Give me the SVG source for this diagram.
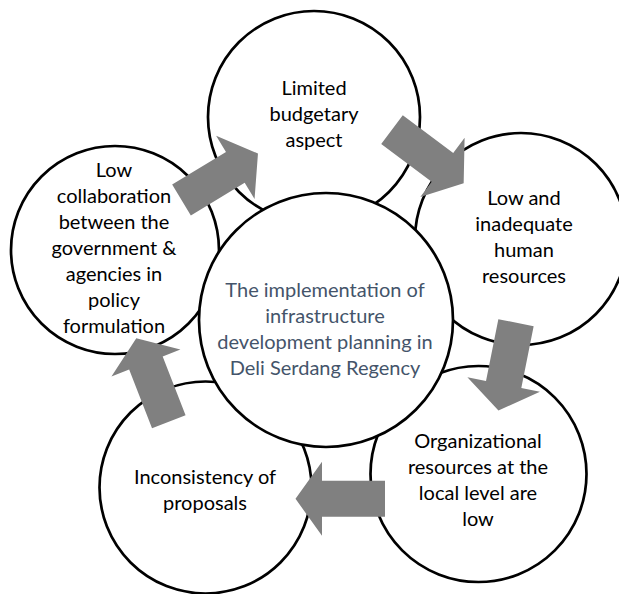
<svg xmlns="http://www.w3.org/2000/svg" width="619" height="594" viewBox="0 0 619 594">
<style>
.c{fill:#fff;stroke:#000;stroke-width:2.7}
.t{font-family:Lato,"Liberation Sans",sans-serif;font-size:20px;fill:#000;text-anchor:middle}
.tc{fill:#44546A}
.a{fill:#808080}
</style>
<defs>
<polygon id="arr" points="0,-18 63,-18 63,-37 89.5,0 63,37 63,18 0,18"/>
</defs>
<rect width="619" height="594" fill="#fff"/>
<g id="node-top">
<circle class="c" cx="314" cy="117" r="106"/>
<text class="t" x="314" y="95">Limited</text>
<text class="t" x="314" y="121">budgetary</text>
<text class="t" x="314" y="147">aspect</text>
</g>
<g id="node-right">
<circle class="c" cx="521" cy="239" r="106"/>
<text class="t" x="524" y="205">Low and</text>
<text class="t" x="524" y="231">inadequate</text>
<text class="t" x="524" y="257">human</text>
<text class="t" x="524" y="283">resources</text>
</g>
<g id="node-left">
<circle class="c" cx="115" cy="250" r="104"/>
<text class="t" x="114" y="177">Low</text>
<text class="t" x="114" y="203">collaboration</text>
<text class="t" x="114" y="229">between the</text>
<text class="t" x="114" y="255">government &amp;</text>
<text class="t" x="114" y="281">agencies in</text>
<text class="t" x="114" y="307">policy</text>
<text class="t" x="114" y="333">formulation</text>
</g>
<g id="node-bottom-left">
<circle class="c" cx="205.5" cy="487.5" r="106"/>
<text class="t" x="205" y="484">Inconsistency of</text>
<text class="t" x="205" y="510">proposals</text>
</g>
<g id="node-bottom-right">
<circle class="c" cx="478.5" cy="474" r="108"/>
<text class="t" x="478" y="448">Organizational</text>
<text class="t" x="478" y="474">resources at the</text>
<text class="t" x="478" y="500">local level are</text>
<text class="t" x="478" y="526">low</text>
</g>
<g id="node-center">
<circle class="c" cx="326" cy="320" r="127"/>
<text class="t tc" x="325" y="297">The implementation of</text>
<text class="t tc" x="325" y="323">infrastructure</text>
<text class="t tc" x="325" y="349">development planning in</text>
<text class="t tc" x="325" y="375">Deli Serdang Regency</text>
</g>
<g id="connectors">
<use href="#arr" class="a" transform="translate(181.5,200) rotate(-31.3)"/>
<use href="#arr" class="a" transform="translate(392,129.7) rotate(36.8)"/>
<use href="#arr" class="a" transform="translate(516,322.7) rotate(101.3)"/>
<use href="#arr" class="a" transform="translate(385,498.8) rotate(180)"/>
<use href="#arr" class="a" transform="translate(168.8,421.7) rotate(-111.3)"/>
</g>
</svg>
